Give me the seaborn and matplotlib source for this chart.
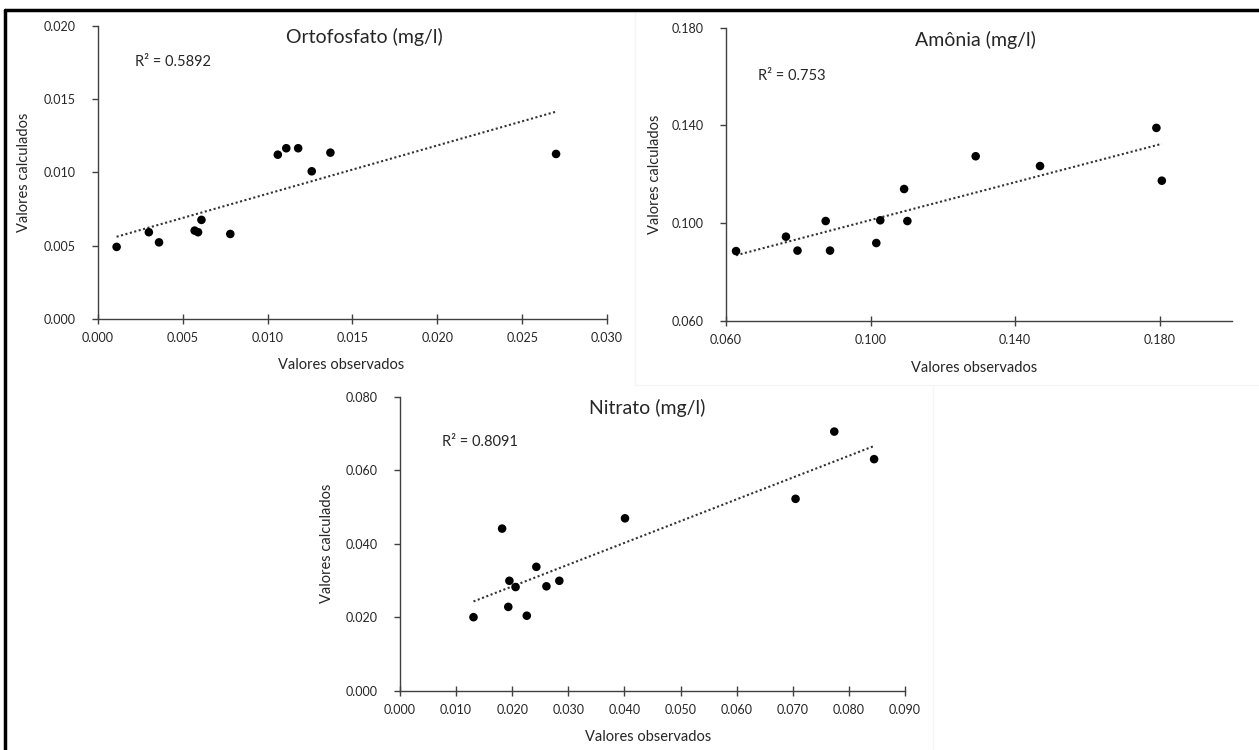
import numpy as np
import pandas as pd
import matplotlib
matplotlib.use("Agg")
import matplotlib.pyplot as plt
from matplotlib.lines import Line2D
from matplotlib.ticker import FormatStrFormatter
import seaborn as sns

# Observed vs. calculated concentrations (mg/l)
orto_obs = [0.0011, 0.0030, 0.0036, 0.0057, 0.0059, 0.0061, 0.0078,
            0.0106, 0.0111, 0.0118, 0.0126, 0.0137, 0.0270]
orto_calc = [0.00493, 0.00593, 0.00524, 0.00604, 0.00593, 0.00677, 0.00581,
             0.01121, 0.01165, 0.01165, 0.01008, 0.01135, 0.01126]

amon_obs = [0.0628, 0.0766, 0.0798, 0.0876, 0.0888, 0.1016, 0.1027,
            0.1093, 0.1102, 0.1291, 0.1469, 0.1791, 0.1806]
amon_calc = [0.0886, 0.0945, 0.0888, 0.1009, 0.0888, 0.0919, 0.1012,
             0.1140, 0.1009, 0.1274, 0.1234, 0.1390, 0.1174]

nitr_obs = [0.0131, 0.0182, 0.0193, 0.0195, 0.0206, 0.0226, 0.0243,
            0.0261, 0.0284, 0.0401, 0.0705, 0.0774, 0.0845]
nitr_calc = [0.0200, 0.0441, 0.0228, 0.0299, 0.0282, 0.0204, 0.0337,
             0.0284, 0.0299, 0.0469, 0.0522, 0.0705, 0.0630]

titles = ["Ortofosfato (mg/l)", "Amônia (mg/l)", "Nitrato (mg/l)"]
r2_labels = ["R² = 0.5892", "R² = 0.753", "R² = 0.8091"]
xlabel = "Valores observados"
ylabel = "Valores calculados"

sns.set_theme(style="white")
plt.rcParams["font.family"] = ["Lato", "DejaVu Sans"]

W, H = 1259, 750
fig = plt.figure(figsize=(W / 100, H / 100), dpi=100)

AXIS_COLOR = "#404040"
TEXT_COLOR = "#262626"


def ticks(lo, hi, step):
    n = int(np.floor((hi - lo) / step + 1e-9))
    return [round(lo + i * step, 6) for i in range(n + 1)]


panels = [
    dict(rect=[0.0778, 0.5743, 0.4043, 0.3915], x=orto_obs, y=orto_calc,
         xlim=(0.0, 0.030), xstep=0.005, ylim=(0.0, 0.020), ystep=0.005,
         title_pos=(0.5226, 0.9615), r2_pos=(0.0727, 0.877),
         ylab_x=-0.132, xlab_pos=(0.477, -0.156)),
    dict(rect=[0.5766, 0.572, 0.4019, 0.3911], x=amon_obs, y=amon_calc,
         xlim=(0.060, 0.200), xstep=0.040, ylim=(0.060, 0.180), ystep=0.040,
         title_pos=(0.494, 0.958), r2_pos=(0.063, 0.835),
         ylab_x=-0.126, xlab_pos=(0.49, -0.16)),
    dict(rect=[0.3177, 0.0791, 0.4011, 0.392], x=nitr_obs, y=nitr_calc,
         xlim=(0.0, 0.090), xstep=0.010, ylim=(0.0, 0.080), ystep=0.020,
         title_pos=(0.489, 0.9616), r2_pos=(0.083, 0.847),
         ylab_x=-0.131, xlab_pos=(0.491, -0.157)),
]

for p, title, r2 in zip(panels, titles, r2_labels):
    ax = fig.add_axes(p["rect"])
    df = pd.DataFrame({"obs": p["x"], "calc": p["y"]})
    sns.regplot(data=df, x="obs", y="calc", ax=ax, ci=None, truncate=True,
                scatter_kws=dict(s=38, color="black", edgecolor="none",
                                 alpha=1, zorder=3),
                line_kws=dict(color="#333333", lw=1.5,
                              linestyle=(0, (1, 1.2)), zorder=2))

    ax.set_xlim(*p["xlim"])
    ax.set_ylim(*p["ylim"])
    ax.set_xticks(ticks(*p["xlim"], p["xstep"]))
    ax.set_yticks(ticks(*p["ylim"], p["ystep"]))
    ax.xaxis.set_major_formatter(FormatStrFormatter("%.3f"))
    ax.yaxis.set_major_formatter(FormatStrFormatter("%.3f"))

    for side in ("top", "right"):
        ax.spines[side].set_visible(False)
    for side in ("left", "bottom"):
        ax.spines[side].set_color(AXIS_COLOR)
        ax.spines[side].set_linewidth(1.0)

    ax.tick_params(axis="x", direction="inout", length=7, width=1.0,
                   color=AXIS_COLOR, labelsize=9, labelcolor=TEXT_COLOR,
                   pad=6, bottom=True)
    ax.tick_params(axis="y", direction="out", length=4, width=1.0,
                   color=AXIS_COLOR, labelsize=9, labelcolor=TEXT_COLOR,
                   pad=12, left=True)

    ax.set_xlabel("")
    ax.set_ylabel(ylabel, fontsize=10.5, color=TEXT_COLOR)
    ax.yaxis.set_label_coords(p["ylab_x"], 0.5)
    ax.text(p["xlab_pos"][0], p["xlab_pos"][1], xlabel, transform=ax.transAxes,
            ha="center", va="center", fontsize=10.5, color=TEXT_COLOR)

    ax.text(p["title_pos"][0], p["title_pos"][1], title, transform=ax.transAxes,
            ha="center", va="center", fontsize=14, color=TEXT_COLOR)
    ax.text(p["r2_pos"][0], p["r2_pos"][1], r2, transform=ax.transAxes,
            ha="left", va="center", fontsize=10.5, color=TEXT_COLOR)
    ax.set_facecolor("none")
    ax.grid(False)

# Faint chart-area outlines
faint = "#f5f5f5"
fig.add_artist(Line2D([635 / W, 635 / W], [1 - 385 / H, 1 - 12 / H],
                      transform=fig.transFigure, color=faint, lw=1))
fig.add_artist(Line2D([635 / W, 1], [1 - 385 / H, 1 - 385 / H],
                      transform=fig.transFigure, color=faint, lw=1))
fig.add_artist(Line2D([933 / W, 933 / W], [0, 1 - 385 / H],
                      transform=fig.transFigure, color=faint, lw=1))

# Outer frame along the top and left edges
fig.add_artist(Line2D([5 / W, 5 / W], [0, 1 - 10 / H],
                      transform=fig.transFigure, color="black", lw=2.5))
fig.add_artist(Line2D([5 / W, 1], [1 - 10 / H, 1 - 10 / H],
                      transform=fig.transFigure, color="black", lw=2.5))

fig.savefig("out.png", dpi=100, facecolor="white")
